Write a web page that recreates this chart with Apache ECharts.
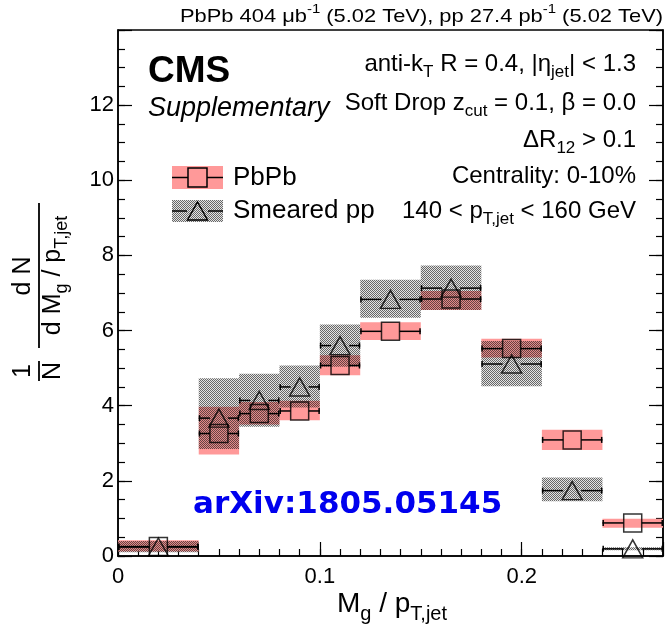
<!DOCTYPE html>
<html><head><meta charset="utf-8">
<script src="https://cdn.jsdelivr.net/npm/echarts@6/dist/echarts.min.js"></script>
<style>html,body{margin:0;padding:0;background:#fff}#c{width:665px;height:633px}</style>
</head><body><div id="c"></div>
<script>
// ---- data ----
const binLow  = [0.00, 0.04, 0.06, 0.08, 0.10, 0.12, 0.15, 0.18, 0.21, 0.24];
const binHigh = [0.04, 0.06, 0.08, 0.10, 0.12, 0.15, 0.18, 0.21, 0.24, 0.27];
const pbpbValue   = [0.25, 3.26, 3.79, 3.86, 5.07, 5.98, 6.84, 5.52, 3.09, 0.88];
const pbpbSysLow  = [0.12, 2.70, 3.50, 3.61, 4.81, 5.75, 6.55, 5.28, 2.82, 0.75];
const pbpbSysHigh = [0.42, 3.97, 4.10, 4.13, 5.34, 6.22, 7.05, 5.78, 3.36, 0.99];
const ppValue   = [0.24, 3.67, 4.14, 4.50, 5.60, 6.83, 7.13, 5.11, 1.74, 0.19];
const ppSysLow  = [0.10, 2.85, 3.44, 3.95, 5.04, 6.34, 6.55, 4.52, 1.46, 0.15];
const ppSysHigh = [0.40, 4.73, 4.85, 5.07, 6.16, 7.35, 7.73, 5.72, 2.09, 0.23];
const xTickLabels = ['0', '0.1', '0.2'];
const yTickLabels = ['0', '2', '4', '6', '8', '10', '12'];
const seriesNames = ['PbPb', 'Smeared pp'];

const FAMILY = 'Liberation Sans, Arial, Helvetica, sans-serif';
const PINK = '#ff9999';

function makeHatch() {
  const c = document.createElement('canvas');
  c.width = 2; c.height = 2;
  const g = c.getContext('2d');
  g.fillStyle = 'rgba(25,25,25,0.66)'; g.fillRect(0, 0, 1, 1); g.fillRect(1, 1, 1, 1);
  g.fillStyle = 'rgba(25,25,25,0.12)'; g.fillRect(1, 0, 1, 1); g.fillRect(0, 1, 1, 1);
  return c;
}
const hatch = { image: makeHatch(), repeat: 'repeat' };

// text with sub/superscripts, laid out with measured widths
const mctx = document.createElement('canvas').getContext('2d');
function mtext(x, yc, segs, F, opts) {
  opts = opts || {};
  const fam = opts.fontFamily || FAMILY;
  const fw = opts.fontWeight || 'normal', fs = opts.fontStyle || 'normal';
  const small = Math.round(F * 0.7);
  const parts = segs.map(([t, k]) => {
    const size = (k === 'b' || k === 'p') ? small : F;
    mctx.font = fs + ' ' + fw + ' ' + size + 'px ' + fam;
    return { t, k, size, w: mctx.measureText(t).width };
  });
  const W = parts.reduce((a, p) => a + p.w, 0);
  const sx = opts.width ? opts.width / W : 1;
  const align = opts.align || 'left';
  let cx = align === 'left' ? 0 : align === 'right' ? -W : -W / 2;
  const children = parts.map(p => {
    const dy = p.k === 'b' ? F * 0.36 : p.k === 'p' ? -F * 0.40 : 0;
    const el = { type: 'text', x: cx, y: dy, silent: true,
      style: { text: p.t, fontFamily: fam, fontWeight: fw, fontStyle: fs, fontSize: p.size, fill: opts.fill || '#000', align: 'left', verticalAlign: 'middle' } };
    cx += p.w;
    return el;
  });
  return { type: 'group', x: x, y: yc, scaleX: sx, silent: true, children: children };
}

const chart = echarts.init(document.getElementById('c'), null, { renderer: 'canvas' });

const bandPb = binLow.map((lo, i) => [lo, binHigh[i], pbpbSysLow[i], pbpbSysHigh[i]]);
const bandPp = binLow.map((lo, i) => [lo, binHigh[i], ppSysLow[i], ppSysHigh[i]]);
const barPb = binLow.map((lo, i) => [lo, binHigh[i], (lo + binHigh[i]) / 2, pbpbValue[i]]);
const barPp = binLow.map((lo, i) => [lo, binHigh[i], (lo + binHigh[i]) / 2, ppValue[i]]);
const ptPb = binLow.map((lo, i) => [(lo + binHigh[i]) / 2, pbpbValue[i]]);
const ptPp = binLow.map((lo, i) => [(lo + binHigh[i]) / 2, ppValue[i]]);

function bandRender(fill) {
  return function (params, api) {
    const p1 = api.coord([api.value(0), api.value(3)]);
    const p2 = api.coord([api.value(1), api.value(2)]);
    return { type: 'rect', shape: { x: p1[0], y: p1[1], width: p2[0] - p1[0], height: p2[1] - p1[1] }, style: { fill: fill } };
  };
}
function barRender(half) {
  return function (params, api) {
    const l = api.coord([api.value(0), api.value(3)]);
    const r = api.coord([api.value(1), api.value(3)]);
    const c = api.coord([api.value(2), api.value(3)]);
    const y = c[1];
    const st = { stroke: '#000', lineWidth: 1.5 };
    return { type: 'group', children: [
      { type: 'line', shape: { x1: l[0], y1: y, x2: c[0] - half, y2: y }, style: st },
      { type: 'line', shape: { x1: c[0] + half, y1: y, x2: r[0], y2: y }, style: st },
      { type: 'line', shape: { x1: l[0] + 0.75, y1: y - 3, x2: l[0] + 0.75, y2: y + 3 }, style: st },
      { type: 'line', shape: { x1: r[0] - 0.75, y1: y - 3, x2: r[0] - 0.75, y2: y + 3 }, style: st }
    ] };
  };
}

const axisCommon = { type: 'value', splitLine: { show: false } };
const lblFont = { fontFamily: FAMILY, fontSize: 22, color: '#000' };

const option = {
  animation: false,
  backgroundColor: '#fff',
  textStyle: { fontFamily: FAMILY },
  grid: { left: 118, right: 2, top: 30, bottom: 77, show: true, borderColor: '#000', borderWidth: 1.5, backgroundColor: 'transparent' },
  xAxis: [
    Object.assign({}, axisCommon, { min: 0, max: 0.27, interval: 0.01, position: 'bottom',
      axisLine: { show: true, onZero: false, lineStyle: { color: '#000', width: 1.5 } },
      axisTick: { show: true, inside: true, length: 7, lineStyle: { color: '#000', width: 1.2 } },
      axisLabel: Object.assign({ margin: 10, showMaxLabel: false, formatter: v => { const s = String(parseFloat(v.toFixed(3))); return xTickLabels.includes(s) ? s : ''; } }, lblFont) }),
    Object.assign({}, axisCommon, { min: 0, max: 0.27, interval: 0.1, position: 'bottom',
      axisLine: { show: false, onZero: false },
      axisTick: { show: true, inside: true, length: 14, lineStyle: { color: '#000', width: 1.2 } },
      axisLabel: { show: false } })
  ],
  yAxis: [
    Object.assign({}, axisCommon, { min: 0, max: 14, interval: 0.5, position: 'left',
      axisLine: { show: true, onZero: false, lineStyle: { color: '#000', width: 1.5 } },
      axisTick: { show: true, inside: true, length: 7, lineStyle: { color: '#000', width: 1.2 } },
      axisLabel: Object.assign({ margin: 4, formatter: v => { const s = String(v); return yTickLabels.includes(s) ? s : ''; } }, lblFont) }),
    Object.assign({}, axisCommon, { min: 0, max: 14, interval: 2, position: 'left',
      axisLine: { show: false, onZero: false },
      axisTick: { show: true, inside: true, length: 14, lineStyle: { color: '#000', width: 1.2 } },
      axisLabel: { show: false } }),
    Object.assign({}, axisCommon, { min: 0, max: 14, interval: 0.5, position: 'right',
      axisLine: { show: true, onZero: false, lineStyle: { color: '#000', width: 1.5 } },
      axisTick: { show: true, inside: true, length: 7, lineStyle: { color: '#000', width: 1.2 } },
      axisLabel: { show: false } }),
    Object.assign({}, axisCommon, { min: 0, max: 14, interval: 2, position: 'right',
      axisLine: { show: false, onZero: false },
      axisTick: { show: true, inside: true, length: 14, lineStyle: { color: '#000', width: 1.2 } },
      axisLabel: { show: false } })
  ],
  series: [
    { name: seriesNames[0] + ' sys', type: 'custom', data: bandPb, renderItem: bandRender(PINK), encode: { x: [0, 1], y: [2, 3] }, silent: true, z: 2 },
    { name: seriesNames[1] + ' sys', type: 'custom', data: bandPp, renderItem: bandRender(hatch), encode: { x: [0, 1], y: [2, 3] }, silent: true, z: 3 },
    { name: seriesNames[0] + ' bins', type: 'custom', data: barPb, renderItem: barRender(9), encode: { x: [0, 1], y: 3 }, silent: true, z: 4 },
    { name: seriesNames[1] + ' bins', type: 'custom', data: barPp, renderItem: barRender(9), encode: { x: [0, 1], y: 3 }, silent: true, z: 4 },
    { name: seriesNames[0], type: 'scatter', data: ptPb, symbol: 'rect', symbolSize: 18, silent: true, z: 5,
      itemStyle: { color: 'rgba(0,0,0,0)', borderColor: '#000', borderWidth: 1.5 } },
    { name: seriesNames[1], type: 'scatter', data: ptPp, symbol: 'triangle', symbolSize: [20, 18], silent: true, z: 5,
      itemStyle: { color: 'rgba(0,0,0,0)', borderColor: '#000', borderWidth: 1.5 } }
  ],
  graphic: [
    // top luminosity text
    mtext(663, 17, [['PbPb 404 μb'], ['-1', 'p'], [' (5.02 TeV), pp 27.4 pb'], ['-1', 'p'], [' (5.02 TeV)']], 19, { align: 'right', width: 483 }),
    // CMS labels
    { type: 'text', x: 148, y: 72, silent: true, style: { text: 'CMS', fontFamily: FAMILY, fontWeight: 'bold', fontSize: 37, fill: '#000', align: 'left', verticalAlign: 'middle' } },
    { type: 'text', x: 148, y: 108, silent: true, style: { text: 'Supplementary', fontFamily: FAMILY, fontStyle: 'italic', fontSize: 27, fill: '#000', align: 'left', verticalAlign: 'middle' } },
    // right-side info
    mtext(636, 64, [['anti-k'], ['T', 'b'], [' R = 0.4, |η'], ['jet', 'b'], ['| < 1.3']], 24, { align: 'right' }),
    mtext(636, 103, [['Soft Drop z'], ['cut', 'b'], [' = 0.1, β = 0.0']], 24, { align: 'right' }),
    mtext(636, 140, [['ΔR'], ['12', 'b'], [' > 0.1']], 24, { align: 'right' }),
    mtext(636, 176, [['Centrality: 0-10%']], 24, { align: 'right' }),
    mtext(636, 211, [['140 < p'], ['T,jet', 'b'], [' < 160 GeV']], 24, { align: 'right' }),
    // legend
    { type: 'rect', silent: true, shape: { x: 172, y: 166, width: 51, height: 23 }, style: { fill: PINK } },
    { type: 'line', silent: true, shape: { x1: 172, y1: 177.5, x2: 188, y2: 177.5 }, style: { stroke: '#000', lineWidth: 1.5 } },
    { type: 'line', silent: true, shape: { x1: 207, y1: 177.5, x2: 223, y2: 177.5 }, style: { stroke: '#000', lineWidth: 1.5 } },
    { type: 'rect', silent: true, shape: { x: 188, y: 168, width: 19, height: 19 }, style: { fill: 'none', stroke: '#000', lineWidth: 1.5 } },
    { type: 'text', x: 233, y: 177.5, silent: true, style: { text: seriesNames[0], fontFamily: FAMILY, fontSize: 26, fill: '#000', verticalAlign: 'middle' } },
    { type: 'rect', silent: true, shape: { x: 172, y: 200, width: 51, height: 22 }, style: { fill: hatch } },
    { type: 'line', silent: true, shape: { x1: 172, y1: 211, x2: 187, y2: 211 }, style: { stroke: '#000', lineWidth: 1.5 } },
    { type: 'line', silent: true, shape: { x1: 208, y1: 211, x2: 223, y2: 211 }, style: { stroke: '#000', lineWidth: 1.5 } },
    { type: 'polygon', silent: true, shape: { points: [[197.5, 202], [207.5, 220], [187.5, 220]] }, style: { fill: 'none', stroke: '#000', lineWidth: 1.5 } },
    { type: 'text', x: 233, y: 211, silent: true, style: { text: seriesNames[1], fontFamily: FAMILY, fontSize: 26, fill: '#000', verticalAlign: 'middle' } },
    // arXiv stamp
    { type: 'text', x: 193, y: 505, silent: true, style: { text: 'arXiv:1805.05145', fontFamily: 'DejaVu Sans', fontWeight: 'bold', fontSize: 31, fill: '#0000ee', verticalAlign: 'middle' } },
    // x axis title
    mtext(392, 604, [['M'], ['g', 'b'], [' / p'], ['T,jet', 'b']], 28, { align: 'center' }),
    // y axis title (rotated fraction)
    { type: 'group', x: 39, y: 290, rotation: Math.PI / 2, silent: true, children: [
      { type: 'text', x: 14, y: -3, style: { text: 'd N', fontFamily: FAMILY, fontSize: 25, fill: '#000', align: 'center', verticalAlign: 'bottom' } },
      { type: 'line', shape: { x1: -58, y1: 0, x2: 87, y2: 0 }, style: { stroke: '#000', lineWidth: 1.8 } },
      mtext(14.5, 14, [['d M'], ['g', 'b'], [' / p'], ['T,jet', 'b']], 25, { align: 'center' }),
      { type: 'text', x: -81, y: -3, style: { text: '1', fontFamily: FAMILY, fontSize: 25, fill: '#000', align: 'center', verticalAlign: 'bottom' } },
      { type: 'line', shape: { x1: -91, y1: 0, x2: -71, y2: 0 }, style: { stroke: '#000', lineWidth: 1.8 } },
      mtext(-81, 14, [['N']], 25, { align: 'center' })
    ] }
  ]
};
chart.setOption(option);
</script>
</body></html>
